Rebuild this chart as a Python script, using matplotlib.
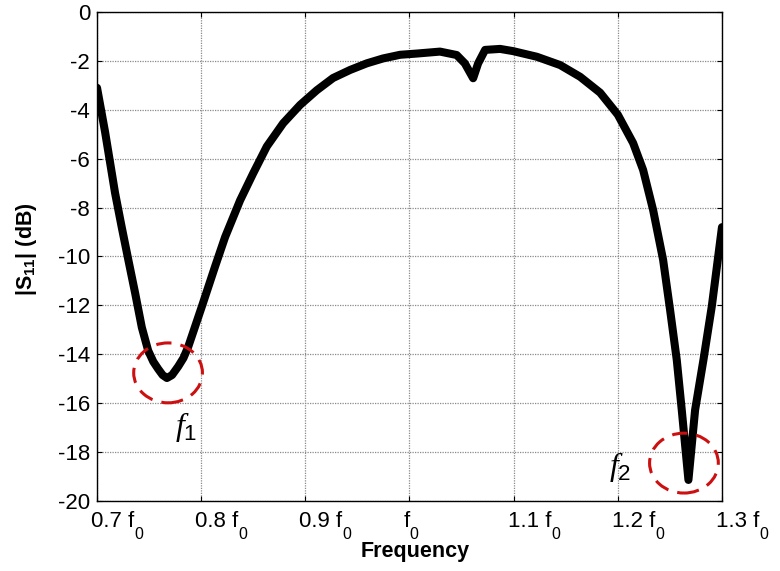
import numpy as np
import matplotlib
matplotlib.use('Agg')
import matplotlib.pyplot as plt
from matplotlib.patches import Ellipse
from matplotlib.transforms import ScaledTranslation

plt.rcParams['font.family'] = ['Liberation Sans', 'DejaVu Sans']
plt.rcParams['mathtext.fontset'] = 'custom'
plt.rcParams['mathtext.rm'] = 'Liberation Serif'
plt.rcParams['mathtext.it'] = 'Liberation Serif:italic'
plt.rcParams['mathtext.default'] = 'regular'
plt.rcParams['axes.unicode_minus'] = False

# |S11| curve (frequency normalised to f0, dB)
freq = [0.700, 0.7077, 0.7173, 0.7237, 0.7301, 0.7366, 0.7430, 0.7491, 0.7540,
        0.7587, 0.7630, 0.7671, 0.7720, 0.7779, 0.7830, 0.7875, 0.8006, 0.8134,
        0.8230, 0.8374, 0.8499, 0.8630, 0.8787, 0.8950, 0.9110, 0.9266, 0.9430,
        0.9590, 0.9746, 0.9910, 1.0070, 1.0293, 1.0453, 1.0531, 1.0611, 1.0659,
        1.0726, 1.0870, 1.0994, 1.1222, 1.1446, 1.1638, 1.1830, 1.2000, 1.2147,
        1.2243, 1.2339, 1.2435, 1.2502, 1.2566, 1.2614, 1.2678, 1.2742, 1.2822,
        1.2902, 1.3000]
s11 = [-3.1, -4.9, -7.4, -8.8, -10.15, -11.5, -12.9, -13.85, -14.3,
       -14.6, -14.85, -14.97, -14.85, -14.5, -14.15, -13.7, -12.05, -10.4,
       -9.2, -7.7, -6.6, -5.5, -4.55, -3.8, -3.2, -2.7, -2.37,
       -2.1, -1.9, -1.75, -1.7, -1.62, -1.76, -2.1, -2.71, -2.1,
       -1.55, -1.51, -1.6, -1.83, -2.17, -2.65, -3.3, -4.2, -5.36,
       -6.46, -8.1, -10.14, -12.19, -14.23, -16.28, -19.14, -16.28, -14.23,
       -12.05, -8.8]

xticks = [0.7, 0.8, 0.9, 1.0, 1.1, 1.2, 1.3]
xtick_main = ['0.7 f', '0.8 f', '0.9 f', 'f', '1.1 f', '1.2 f', '1.3 f']
xtick_sub = '0'
yticks = list(range(-20, 1, 2))

# marked resonances: centre (f, dB), label text
circles = [(0.7682, -14.76), (1.2635, -18.45)]
labels = ['$\\mathit{f}_1$', '$\\mathit{f}_2$']
label_pos = [(0.7854, -16.97), (1.2021, -18.6)]

fig = plt.figure(figsize=(7.8, 5.71), dpi=100)
ax = fig.add_axes([0.1244, 0.1226, 0.8012, 0.8564])

ax.plot(freq, s11, color='black', lw=5.8, solid_capstyle='round',
        solid_joinstyle='round', zorder=3)

for (cx, cy) in circles:
    ax.add_patch(Ellipse((cx, cy), 0.066, 2.45, fill=False, edgecolor='#cc1010',
                         lw=2.2, linestyle=(0, (5, 3)), zorder=4))
for txt, (tx, ty) in zip(labels, label_pos):
    ax.text(tx, ty, txt, fontsize=23, ha='center', va='center', zorder=5)

ax.set_xlim(0.7, 1.3)
ax.set_ylim(-20, 0)
ax.set_xticks(xticks)
ax.set_xticklabels(xtick_main)
ax.set_yticks(yticks)
ax.tick_params(direction='in', length=3.5, width=0.8, labelsize=16,
               top=True, right=True)
ax.tick_params(axis='x', pad=7.5)
ax.tick_params(axis='y', pad=5)
off = ScaledTranslation(-6 / 100, 0, fig.dpi_scale_trans)
for lab in ax.get_xticklabels():
    lab.set_horizontalalignment('left')
    lab.set_transform(lab.get_transform() + off)
    # subscript 0 sitting below the baseline, as in the original
    ax.annotate(xtick_sub, xy=(1, 0), xycoords=lab, xytext=(0, 5),
                textcoords='offset pixels', ha='left', va='top',
                fontsize=11.5, annotation_clip=False)

ax.grid(True, color='#8a8a8a', linestyle=(0, (1, 1)), linewidth=0.9)
for sp in ax.spines.values():
    sp.set_linewidth(1.0)

ax.set_xlabel('Frequency', fontsize=15.5, fontweight='bold', va='center')
ax.xaxis.set_label_coords(0.509, -0.103)
ax.set_ylabel('|S$_{11}$| (dB)', fontsize=15.5, fontweight='bold', va='center')
ax.yaxis.set_label_coords(-0.113, 0.515)

fig.savefig('out.png', dpi=100)
